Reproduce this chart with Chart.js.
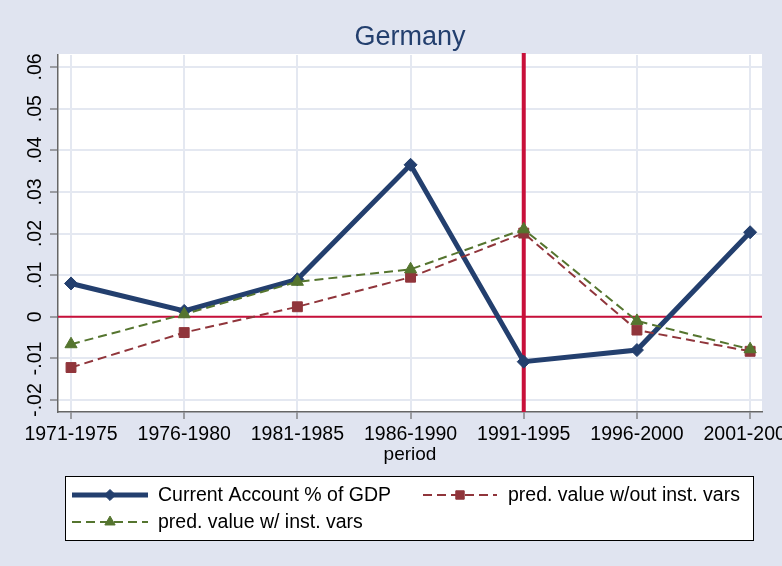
<!DOCTYPE html>
<html>
<head>
<meta charset="utf-8">
<script src="https://cdn.jsdelivr.net/npm/chart.js@4/dist/chart.umd.min.js"></script>
<style>
	html, body { margin: 0; padding: 0; background: #e0e4f0; }
	#wrap { width: 782px; height: 566px; position: relative; }
</style>
</head>
<body>
<div id="wrap"><canvas id="chart" width="782" height="566"></canvas></div>
<script>
'use strict';

// data
const periods = ['1971-1975', '1976-1980', '1981-1985', '1986-1990', '1991-1995', '1996-2000', '2001-2005'];
const currentAccount = [0.0080, 0.0014, 0.0090, 0.0365, -0.0108, -0.0080, 0.0203];
const predNoInst = [-0.0122, -0.0038, 0.0024, 0.0095, 0.0201, -0.0032, -0.0083];
const predInst = [-0.0066, 0.0006, 0.0084, 0.0114, 0.0210, -0.0010, -0.0078];
const yTicks = [-0.02, -0.01, 0, 0.01, 0.02, 0.03, 0.04, 0.05, 0.06];
const seriesNames = ['Current Account % of GDP', 'pred. value w/out inst. vars', 'pred. value w/ inst. vars'];
const breakPeriod = 4; // 1991-1995

const FONT = '"Liberation Sans", Arial, sans-serif';
const NAVY = '#233f6e';
const MAROON = '#90353b';
const GREEN = '#55752f';
const LINE_RED = '#c8103a';

function toPoints(arr) {
	return arr.map(function(v, i){ return { x: i, y: v }; });
}

function fmtTick(v) {
	if (Math.abs(v) < 1e-9) return '0';
	let s = v.toFixed(2);
	return s.replace('0.', '.');
}

// white plot region + reference lines
const plotBg = {
	id: 'plotBg',
	beforeDraw: function(chart) {
		const a = chart.chartArea;
		const ctx = chart.ctx;
		ctx.save();
		ctx.fillStyle = '#ffffff';
		ctx.fillRect(a.left, a.top - 1, a.right - a.left, a.bottom - a.top + 1);
		ctx.restore();
	},
	beforeDatasetsDraw: function(chart) {
		const a = chart.chartArea;
		const ctx = chart.ctx;
		const xs = chart.scales.x, ys = chart.scales.y;
		ctx.save();
		ctx.strokeStyle = LINE_RED;
		ctx.lineWidth = 2;
		const y0 = ys.getPixelForValue(0);
		ctx.beginPath();
		ctx.moveTo(a.left, y0);
		ctx.lineTo(a.right, y0);
		ctx.stroke();
		ctx.lineWidth = 4;
		const xb = xs.getPixelForValue(breakPeriod);
		ctx.beginPath();
		ctx.moveTo(xb, a.top - 2);
		ctx.lineTo(xb, a.bottom);
		ctx.stroke();
		ctx.restore();
	}
};

// title, rotated y labels and the boxed legend
const extras = {
	id: 'extras',
	afterDraw: function(chart) {
		const ctx = chart.ctx;
		const a = chart.chartArea;
		const ys = chart.scales.y;
		ctx.save();

		ctx.fillStyle = NAVY;
		ctx.font = '27px ' + FONT;
		ctx.textAlign = 'center';
		ctx.textBaseline = 'alphabetic';
		ctx.fillText('Germany', (a.left + a.right) / 2, 45);

		ctx.fillStyle = '#000';
		ctx.font = '19.5px ' + FONT;
		ctx.textBaseline = 'middle';
		yTicks.forEach(function(v){
			const py = ys.getPixelForValue(v);
			ctx.save();
			ctx.translate(36, py);
			ctx.rotate(-Math.PI / 2);
			ctx.fillText(fmtTick(v), 0, 0);
			ctx.restore();
		});

		// legend box
		const box = { l: 65, t: 476, r: 754, b: 541 };
		ctx.fillStyle = '#ffffff';
		ctx.fillRect(box.l, box.t, box.r - box.l, box.b - box.t);
		ctx.strokeStyle = '#000';
		ctx.lineWidth = 1;
		ctx.strokeRect(box.l + 0.5, box.t + 0.5, box.r - box.l - 1, box.b - box.t - 1);

		const items = [
			{ ds: 0, x1: 72, x2: 148, y: 495, tx: 158 },
			{ ds: 1, x1: 423, x2: 497, y: 495, tx: 508 },
			{ ds: 2, x1: 72, x2: 148, y: 522, tx: 158 }
		];
		items.forEach(function(it){
			const ds = chart.data.datasets[it.ds];
			ctx.save();
			ctx.strokeStyle = ds.borderColor;
			ctx.lineWidth = ds.borderWidth;
			ctx.setLineDash(ds.borderDash || []);
			ctx.beginPath();
			ctx.moveTo(it.x1, it.y);
			ctx.lineTo(it.x2, it.y);
			ctx.stroke();
			ctx.restore();
			ctx.save();
			ctx.fillStyle = ds.pointBackgroundColor;
			ctx.strokeStyle = ds.pointBorderColor;
			ctx.lineWidth = 1;
			Chart.helpers.drawPoint(ctx, {
				pointStyle: ds.pointStyle,
				radius: ds.pointRadius * 0.85,
				borderWidth: 1
			}, (it.x1 + it.x2) / 2, it.y);
			ctx.restore();
			ctx.fillStyle = '#000';
			ctx.textAlign = 'left';
			ctx.fillText(ds.label, it.tx, it.y + 1);
		});
		ctx.restore();
	}
};

const ctx = document.getElementById('chart').getContext('2d');
new Chart(ctx, {
	type: 'line',
	data: {
		datasets: [{
			label: seriesNames[0],
			data: toPoints(currentAccount),
			borderColor: NAVY,
			backgroundColor: NAVY,
			borderWidth: 5,
			pointStyle: 'rectRot',
			pointRadius: 6.5,
			pointBackgroundColor: NAVY,
			pointBorderColor: NAVY,
			pointBorderWidth: 1,
			tension: 0,
			order: 3
		}, {
			label: seriesNames[1],
			data: toPoints(predNoInst),
			borderColor: MAROON,
			backgroundColor: MAROON,
			borderWidth: 2,
			borderDash: [9, 5],
			pointStyle: 'rect',
			pointRadius: 7,
			pointBackgroundColor: MAROON,
			pointBorderColor: MAROON,
			pointBorderWidth: 1,
			tension: 0,
			order: 2
		}, {
			label: seriesNames[2],
			data: toPoints(predInst),
			borderColor: GREEN,
			backgroundColor: GREEN,
			borderWidth: 2,
			borderDash: [9, 5],
			pointStyle: 'triangle',
			pointRadius: 7,
			pointBackgroundColor: GREEN,
			pointBorderColor: GREEN,
			pointBorderWidth: 1,
			tension: 0,
			order: 1
		}]
	},
	options: {
		responsive: false,
		animation: false,
		layout: { padding: { top: 55, left: 0, right: 20, bottom: 100 } },
		plugins: {
			legend: { display: false },
			tooltip: { enabled: false },
			title: { display: false }
		},
		scales: {
			x: {
				type: 'linear',
				min: -0.115,
				max: 6.105,
				afterBuildTicks: function(scale){
					scale.ticks = periods.map(function(p, i){ return { value: i }; });
				},
				afterFit: function(scale){
					scale.height = 54;
					scale.paddingLeft = 0;
					scale.paddingRight = 0;
				},
				ticks: {
					autoSkip: false,
					maxRotation: 0,
					minRotation: 0,
					padding: 4,
					color: '#000',
					font: { family: FONT, size: 19.5 },
					callback: function(v){ return periods[v]; }
				},
				grid: {
					color: '#e4e8f1',
					lineWidth: 2,
					tickColor: '#555',
					tickLength: 7,
					tickWidth: 1
				},
				border: { display: true, color: '#666', width: 1.5 },
				title: {
					display: true,
					text: 'period',
					color: '#000',
					font: { family: FONT, size: 19 },
					padding: 0
				}
			},
			y: {
				type: 'linear',
				min: -0.02288,
				max: 0.06288,
				afterBuildTicks: function(scale){
					scale.ticks = yTicks.map(function(v){ return { value: v }; });
				},
				afterFit: function(scale){
					scale.width = 58;
				},
				ticks: { display: false },
				grid: {
					color: '#e4e8f1',
					lineWidth: 2,
					tickColor: '#555',
					tickLength: 8,
					tickWidth: 1
				},
				border: { display: true, color: '#666', width: 1.5 }
			}
		}
	},
	plugins: [plotBg, extras]
});
</script>
</body>
</html>
